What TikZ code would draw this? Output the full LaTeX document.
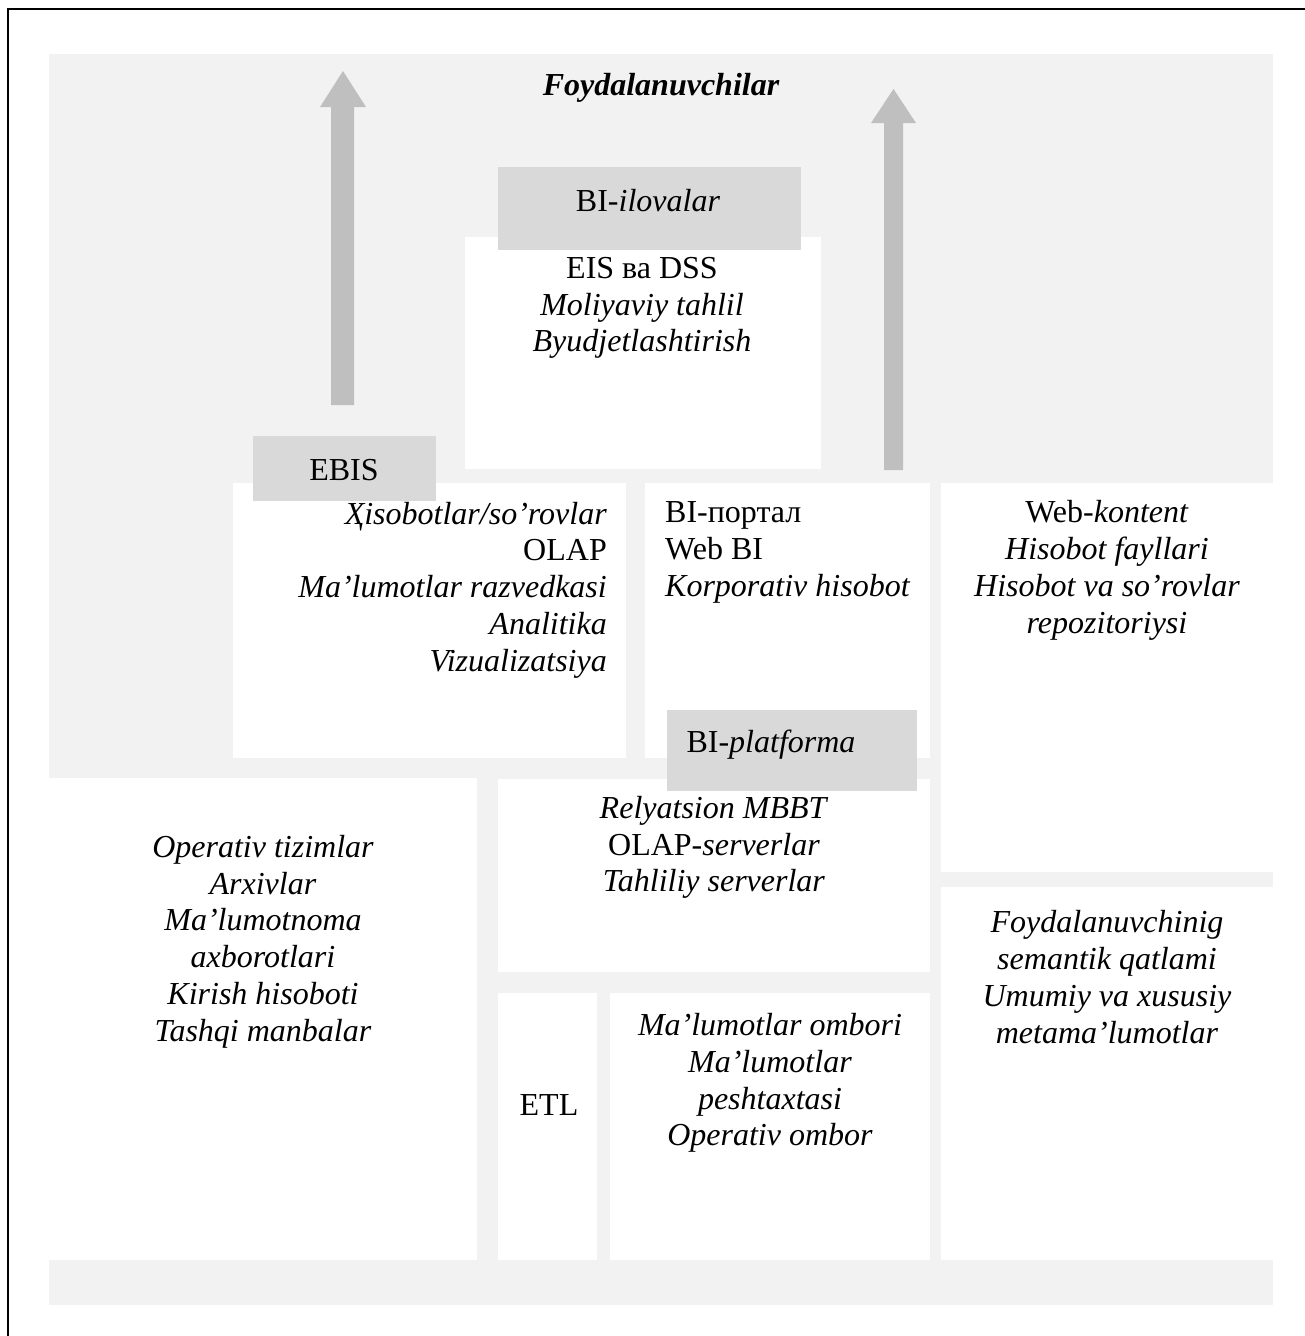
\documentclass[tikz,border=0pt]{standalone}
\usepackage{fontspec}
\setmainfont{Liberation Serif}
\definecolor{bggray}{HTML}{F2F2F2}
\definecolor{labelgray}{HTML}{D9D9D9}
\definecolor{arrowgray}{HTML}{BFBFBF}
\begin{document}
\begin{tikzpicture}[x={(1pt,0)},y={(0,-1pt)},
  txt/.style={font=\fontsize{32}{36.8}\selectfont, inner sep=0pt, align=center},
  whitebox/.style={fill=white},
  labelbox/.style={fill=labelgray},
  bigarrow/.style={fill=arrowgray}]
\useasboundingbox (0,0) rectangle (1304,1336);
% frame (only left and top edges visible)
\draw[line width=2pt] (8,1340) -- (8,9.3) -- (1310,9.3);
% background
\fill[bggray] (49,54) rectangle (1273,1305);
% white boxes
\fill[whitebox] (465,237) rectangle (821,469);
\fill[whitebox] (233,483) rectangle (626,758);
\fill[whitebox] (645,483) rectangle (930,758);
\fill[whitebox] (941,483) rectangle (1273,872);
\fill[whitebox] (49,778) rectangle (477,1260);
\fill[whitebox] (498,779) rectangle (930,972);
\fill[whitebox] (498,993) rectangle (597,1260);
\fill[whitebox] (610,993) rectangle (930,1260);
\fill[whitebox] (941,887) rectangle (1273,1260);
% arrows
\fill[bigarrow] (331,405) -- (331,107) -- (320,107) -- (343,71) -- (366,107) -- (354,107) -- (354,405) -- cycle;
\fill[bigarrow] (884,470) -- (884,123) -- (871,123) -- (893.5,89) -- (916,123) -- (903,123) -- (903,470) -- cycle;
% label boxes
\fill[labelbox] (498,167) rectangle (801,250);
\fill[labelbox] (253,436) rectangle (436,501);
\fill[labelbox] (667,710) rectangle (917,791);
% texts
\node[txt, font=\fontsize{32}{36.8}\selectfont\bfseries\itshape] (users) at (661,88) {Foydalanuvchilar};
\node[txt] (biapps) at (648,201) {BI-\textit{ilovalar}};
\node[txt] (eis) at (642,308) {EIS ва DSS\\\textit{Moliyaviy tahlil}\\\textit{Byudjetlashtirish}};
\node[txt] (ebis) at (344,470) {EBIS};
\node[txt, align=right, anchor=east] (ebistext) at (607,590) {\textit{Ҳisobotlar/so’rovlar}\\OLAP\\\textit{Ma’lumotlar razvedkasi}\\\textit{Analitika}\\\textit{Vizualizatsiya}};
\node[txt, align=left, anchor=west] (portal) at (665,552.5) {BI-портал\\Web BI\\\textit{Korporativ hisobot}};
\node[txt] (web) at (1107,570.5) {Web-\textit{kontent}\\\textit{Hisobot fayllari}\\\textit{Hisobot va so’rovlar}\\\textit{repozitoriysi}};
\node[txt] (platform) at (771,745) {BI-\textit{platforma}};
\node[txt] (rel) at (714,847.5) {\textit{Relyatsion MBBT}\\OLAP-\textit{serverlar}\\\textit{Tahliliy serverlar}};
\node[txt] (sources) at (263,941.5) {\textit{Operativ tizimlar}\\\textit{Arxivlar}\\\textit{Ma’lumotnoma}\\\textit{axborotlari}\\\textit{Kirish hisoboti}\\\textit{Tashqi manbalar}};
\node[txt] (etl) at (549,1105) {ETL};
\node[txt] (store) at (770,1083) {\textit{Ma’lumotlar ombori}\\\textit{Ma’lumotlar}\\\textit{peshtaxtasi}\\\textit{Operativ ombor}};
\node[txt] (sem) at (1107,977) {\textit{Foydalanuvchinig}\\\textit{semantik qatlami}\\\textit{Umumiy va xususiy}\\\textit{metama’lumotlar}};
\end{tikzpicture}
\end{document}
